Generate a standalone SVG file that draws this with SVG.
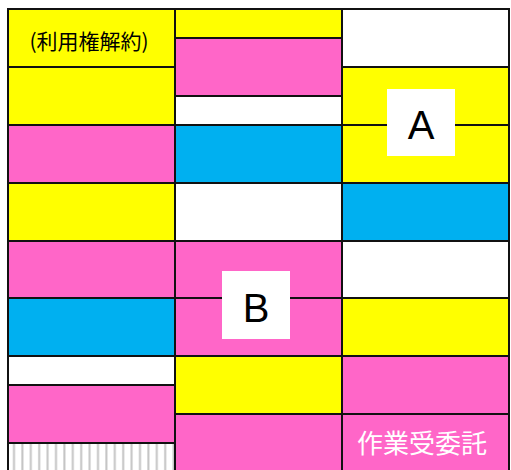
<svg xmlns="http://www.w3.org/2000/svg" width="511" height="470" viewBox="0 0 511 470">
<defs>
<pattern id="stripes" patternUnits="userSpaceOnUse" x="8" y="0" width="8.4" height="10">
<rect x="0" y="0" width="8.4" height="10" fill="#ffffff"/>
<rect x="5" y="0" width="2" height="10" fill="#c4c4c4"/>
</pattern>
</defs>
<style>
rect.c{stroke:#111;stroke-width:2}
.y{fill:#ffff00}
.p{fill:#ff66c8}
.b{fill:#00b0f0}
.w{fill:#ffffff}
.s{fill:url(#stripes)}
.lbl{fill:#fff}
.big{font-family:"Liberation Sans",Arial,sans-serif;font-size:40px;fill:#000;text-anchor:middle}
.jp{font-family:"Noto Sans CJK JP","Noto Sans CJK SC",sans-serif;text-anchor:middle}
</style>
<rect width="511" height="470" fill="#fff"/>
<g id="col1">
<rect id="c1r1" class="c y" x="8" y="9" width="167" height="58"/>
<rect id="c1r2" class="c y" x="8" y="67" width="167" height="58"/>
<rect id="c1r3" class="c p" x="8" y="125" width="167" height="58"/>
<rect id="c1r4" class="c y" x="8" y="183" width="167" height="58"/>
<rect id="c1r5" class="c p" x="8" y="241" width="167" height="57"/>
<rect id="c1r6" class="c b" x="8" y="298" width="167" height="58"/>
<rect id="c1r7" class="c w" x="8" y="356" width="167" height="29"/>
<rect id="c1r8" class="c p" x="8" y="385" width="167" height="58"/>
<rect id="c1r9" class="c s" x="8" y="443" width="167" height="40"/>
</g>
<g id="col2">
<rect id="c2r1" class="c y" x="175" y="9" width="167" height="29"/>
<rect id="c2r2" class="c p" x="175" y="38" width="167" height="58"/>
<rect id="c2r3" class="c w" x="175" y="96" width="167" height="29"/>
<rect id="c2r4" class="c b" x="175" y="125" width="167" height="58"/>
<rect id="c2r5" class="c w" x="175" y="183" width="167" height="58"/>
<rect id="c2r6" class="c p" x="175" y="241" width="167" height="57"/>
<rect id="c2r7" class="c p" x="175" y="298" width="167" height="58"/>
<rect id="c2r8" class="c y" x="175" y="356" width="167" height="58"/>
<rect id="c2r9" class="c p" x="175" y="414" width="167" height="70"/>
</g>
<g id="col3">
<rect id="c3r1" class="c w" x="342" y="9" width="167" height="58"/>
<rect id="c3r2" class="c y" x="342" y="67" width="167" height="58"/>
<rect id="c3r3" class="c y" x="342" y="125" width="167" height="58"/>
<rect id="c3r4" class="c b" x="342" y="183" width="167" height="58"/>
<rect id="c3r5" class="c w" x="342" y="241" width="167" height="57"/>
<rect id="c3r6" class="c y" x="342" y="298" width="167" height="58"/>
<rect id="c3r7" class="c p" x="342" y="356" width="167" height="58"/>
<rect id="c3r8" class="c p" x="342" y="414" width="167" height="70"/>
</g>
<g id="label-riyou">
<text class="jp" x="89" y="49" font-size="21" fill="#000">(利用権解約)</text>
</g>
<g id="label-sagyou">
<text class="jp" x="422" y="453" font-size="26" fill="#fff">作業受委託</text>
</g>
<g id="label-A">
<rect class="lbl" x="387" y="89" width="68" height="67"/>
<text class="big" x="421" y="139">A</text>
</g>
<g id="label-B">
<rect class="lbl" x="222" y="271" width="68" height="68"/>
<text class="big" x="256" y="322">B</text>
</g>
</svg>
